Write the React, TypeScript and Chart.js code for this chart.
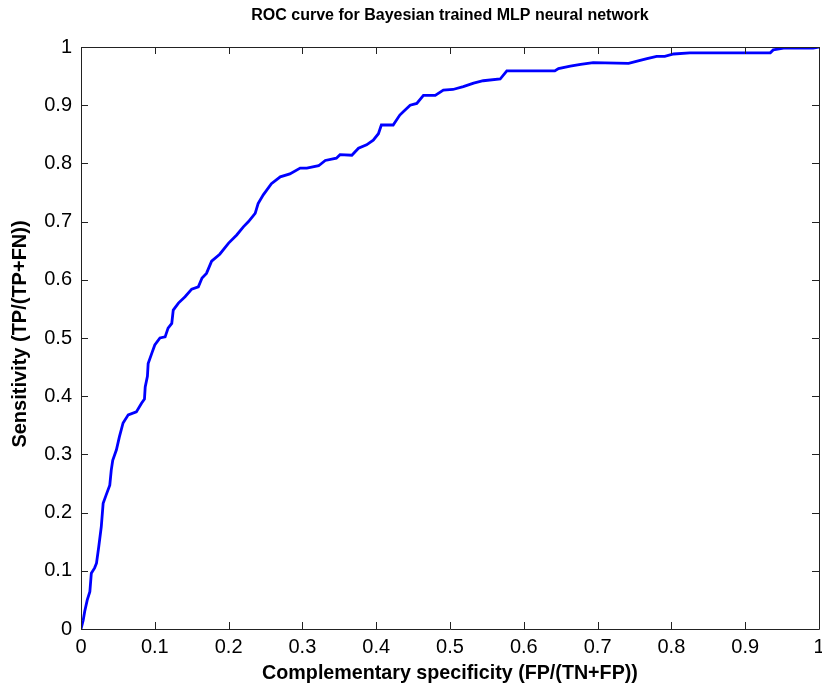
import React, { useEffect, useRef } from "react";
import { Chart, registerables } from "chart.js";

Chart.register(...registerables);

// ROC operating points: false-positive rate vs true-positive rate
const fpr = [
  0, 0.003, 0.005, 0.0085, 0.012, 0.014, 0.0185, 0.021, 0.024, 0.0275,
  0.03, 0.034, 0.039, 0.041, 0.043, 0.048, 0.052, 0.057, 0.064, 0.075,
  0.082, 0.086, 0.087, 0.09, 0.091, 0.096, 0.1, 0.107, 0.114, 0.118,
  0.123, 0.125, 0.132, 0.141, 0.15, 0.159, 0.164, 0.17, 0.177, 0.188,
  0.2, 0.211, 0.22, 0.227, 0.236, 0.24, 0.247, 0.258, 0.27, 0.283,
  0.297, 0.306, 0.322, 0.331, 0.346, 0.351, 0.367, 0.376, 0.387, 0.396,
  0.403, 0.407, 0.423, 0.432, 0.437, 0.446, 0.455, 0.464, 0.48, 0.491,
  0.504, 0.518, 0.532, 0.545, 0.568, 0.577, 0.642, 0.647, 0.663, 0.677,
  0.694, 0.742, 0.755, 0.767, 0.78, 0.791, 0.803, 0.825, 0.934, 0.938,
  0.952, 0.992, 1,
];
const tpr = [
  0, 0.015, 0.03, 0.05, 0.064, 0.096, 0.105, 0.113, 0.141, 0.176,
  0.216, 0.23, 0.247, 0.273, 0.29, 0.308, 0.33, 0.354, 0.368, 0.373,
  0.388, 0.395, 0.416, 0.434, 0.456, 0.474, 0.488, 0.5, 0.502, 0.517,
  0.525, 0.548, 0.56, 0.571, 0.584, 0.588, 0.603, 0.611, 0.632, 0.644,
  0.663, 0.677, 0.691, 0.7, 0.714, 0.731, 0.746, 0.765, 0.777, 0.782,
  0.792, 0.792, 0.796, 0.805, 0.809, 0.815, 0.814, 0.826, 0.832, 0.84,
  0.851, 0.866, 0.866, 0.883, 0.889, 0.9, 0.903, 0.917, 0.917, 0.926,
  0.927, 0.932, 0.938, 0.942, 0.945, 0.959, 0.959, 0.963, 0.967, 0.97,
  0.973, 0.972, 0.976, 0.98, 0.984, 0.984, 0.988, 0.99, 0.99, 0.995,
  0.998, 0.998, 1,
];

const xTickLabels = ["0", "0.1", "0.2", "0.3", "0.4", "0.5", "0.6", "0.7", "0.8", "0.9", "1"];
const yTickLabels = ["0", "0.1", "0.2", "0.3", "0.4", "0.5", "0.6", "0.7", "0.8", "0.9", "1"];

const titleText = "ROC curve for Bayesian trained MLP neural network";
const xAxisTitle = "Complementary specificity (FP/(TN+FP))";
const yAxisTitle = "Sensitivity (TP/(TP+FN))";

const BOX_COLOR = "#222222";
const TICK_LEN = 7;

// Draws the axes box, inward tick marks on all four sides, the title and axis titles
const framePlugin = {
  id: "matlabFrame",
  afterDraw(chart: any) {
    const { ctx, chartArea } = chart;
    const { left, right, top, bottom } = chartArea;
    const xs = chart.scales.x;
    const ys = chart.scales.y;
    ctx.save();
    ctx.strokeStyle = BOX_COLOR;
    ctx.lineWidth = 1;
    ctx.beginPath();
    ctx.rect(Math.round(left) + 0.5, Math.round(top) + 0.5, Math.round(right - left), Math.round(bottom - top));
    ctx.stroke();

    ctx.beginPath();
    xs.ticks.forEach((t: any) => {
      const px = Math.round(xs.getPixelForValue(t.value)) + 0.5;
      ctx.moveTo(px, bottom);
      ctx.lineTo(px, bottom - TICK_LEN);
      ctx.moveTo(px, top);
      ctx.lineTo(px, top + TICK_LEN);
    });
    ys.ticks.forEach((t: any) => {
      const py = Math.round(ys.getPixelForValue(t.value)) + 0.5;
      ctx.moveTo(left, py);
      ctx.lineTo(left + TICK_LEN, py);
      ctx.moveTo(right, py);
      ctx.lineTo(right - TICK_LEN, py);
    });
    ctx.stroke();

    ctx.fillStyle = "#000000";
    ctx.textAlign = "center";
    ctx.textBaseline = "middle";
    const cx = (left + right) / 2;
    const cy = (top + bottom) / 2;

    ctx.font = "bold 16px 'Liberation Sans', Arial, sans-serif";
    ctx.fillText(titleText, cx, 16);

    ctx.font = "bold 19.7px 'Liberation Sans', Arial, sans-serif";
    ctx.fillText(xAxisTitle, cx, 674);

    ctx.font = "bold 20px 'Liberation Sans', Arial, sans-serif";
    ctx.translate(20, cy - 4);
    ctx.rotate(-Math.PI / 2);
    ctx.fillText(yAxisTitle, 0, 0);
    ctx.restore();
  },
};

export default function App() {
  const canvasRef = useRef<HTMLCanvasElement | null>(null);

  useEffect(() => {
    const canvas = canvasRef.current;
    if (!canvas) return;
    const points = fpr.map((x, i) => ({ x, y: tpr[i] }));
    const tickFont = { family: "'Liberation Sans', Arial, sans-serif", size: 20 };

    const chart = new Chart(canvas, {
      type: "line",
      data: {
        datasets: [
          {
            data: points,
            borderColor: "#0000ff",
            borderWidth: 2.8,
            pointRadius: 0,
            tension: 0,
            fill: false,
          },
        ],
      },
      options: {
        responsive: false,
        animation: false,
        layout: { padding: { top: 47, right: 3, left: 0, bottom: 0 } },
        plugins: {
          legend: { display: false },
          tooltip: { enabled: false },
          title: { display: false },
        },
        scales: {
          x: {
            type: "linear",
            min: 0,
            max: 1,
            grid: { display: false, drawTicks: false },
            border: { display: false },
            ticks: {
              stepSize: 0.1,
              color: "#000000",
              font: tickFont,
              padding: 6,
              maxRotation: 0,
              autoSkip: false,
              callback: (_v: any, i: number) => xTickLabels[i],
            },
            afterFit: (scale: any) => {
              scale.height = 60;
              scale.paddingLeft = 0;
              scale.paddingRight = 0;
            },
          },
          y: {
            type: "linear",
            min: 0,
            max: 1,
            grid: { display: false, drawTicks: false },
            border: { display: false },
            ticks: {
              stepSize: 0.1,
              color: "#000000",
              font: tickFont,
              padding: 9,
              autoSkip: false,
              callback: (_v: any, i: number) => yTickLabels[i],
            },
            afterFit: (scale: any) => {
              scale.width = 81;
              scale.paddingTop = 0;
              scale.paddingBottom = 0;
            },
          },
        },
      },
      plugins: [framePlugin],
    });

    return () => chart.destroy();
  }, []);

  return (
    <div style={{ position: "absolute", left: 0, top: 0, width: 822, height: 689, background: "#ffffff" }}>
      <canvas ref={canvasRef} width={822} height={689} />
    </div>
  );
}
